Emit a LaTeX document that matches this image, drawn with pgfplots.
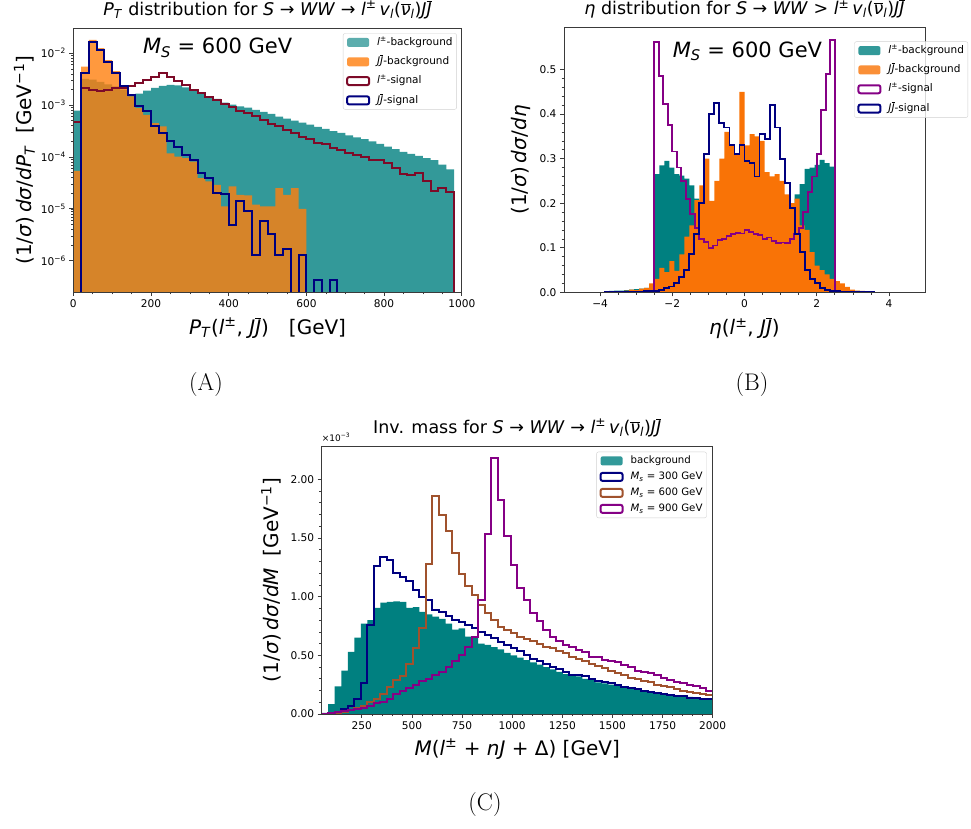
\documentclass[border=0pt]{standalone}
\usepackage{fontspec}
\usepackage{pgfplots}
\usepackage{pgfplotstable}
\pgfplotsset{compat=1.18}

\newfontfamily\dv{DejaVu Sans}
\newfontfamily\lmr{Latin Modern Roman}
\newcommand{\fs}[1]{\fontsize{#1}{#1}\selectfont}
\newcommand{\mi}[1]{\textit{#1}}
\newcommand{\bJ}{$\overline{\mbox{\mi{J}}}$}
\newcommand{\bnu}{$\overline{\mbox{\mi{ν}}}$}
\newcommand{\lpm}{\mi{l}\textsuperscript{±}}
\newcommand{\fin}{\lpm\,\mi{v}\textsubscript{\mi{l}}(\bnu\textsubscript{\mi{l}})\mi{J}\bJ}

\definecolor{tealc}{HTML}{008080}
\definecolor{orA}{HTML}{FF7F0E}
\definecolor{orB}{HTML}{F97306}
\definecolor{maroonS}{HTML}{7D0A28}
\definecolor{navyS}{HTML}{00007F}
\definecolor{purpS}{HTML}{850085}
\definecolor{siennaS}{HTML}{A0522D}
\definecolor{spine}{HTML}{3A3A3A}

% (A) pT histograms, 20 GeV bins; columns: lower edge, l-background, JJ-background, l-signal, JJ-signal
\pgfplotstableread{
x    tl       or       ls       js
0    1e-9     1e-9     1e-9     1e-9
0    7.8e-4   5.4e-5   4.8e-4   1e-9
20   3.2e-3   5.5e-3   2.1e-3   4.1e-3
40   3.1e-3   1.82e-2  1.95e-3  1.62e-2
60   2.8e-3   1.26e-2  1.9e-3   1.15e-2
80   2.5e-3   7.4e-3   2.0e-3   6.9e-3
100  2.3e-3   4.5e-3   2.1e-3   4.1e-3
120  2.0e-3   2.4e-3   2.1e-3   2.34e-3
140  1.5e-3   1.48e-3  2.34e-3  1.58e-3
160  1.66e-3  8.7e-4   2.63e-3  9.5e-4
180  1.9e-3   6.5e-4   3.1e-3   7.8e-4
200  2.14e-3  4.5e-4   3.47e-3  4.0e-4
220  2.34e-3  3.9e-4   4.07e-3  2.9e-4
240  2.45e-3  1.17e-4  3.55e-3  2.0e-4
260  2.4e-3   1.02e-4  2.95e-3  1.58e-4
280  2.19e-3  9.5e-5   2.45e-3  1.1e-4
300  1.9e-3   8.1e-5   1.95e-3  8.7e-5
320  1.7e-3   3.9e-5   1.7e-3   4.8e-5
340  1.48e-3  3.4e-5   1.45e-3  3.9e-5
360  1.32e-3  2.9e-5   1.26e-3  2.0e-5
380  1.12e-3  1.12e-5  1.05e-3  1.95e-5
400  1.02e-3  2.7e-5   9.3e-4   4.8e-6
420  9.5e-4   1.86e-5  7.8e-4   1.41e-5
440  8.9e-4   1.82e-5  6.9e-4   8.9e-6
460  8.1e-4   1.2e-5   6.2e-4   1.26e-6
480  7.4e-4   1.12e-5  5.1e-4   5.9e-6
500  6.8e-4   1.12e-5  4.4e-4   3.2e-6
520  6.0e-4   2.5e-5   3.9e-4   1.26e-6
540  5.5e-4   1.86e-5  3.3e-4   1.66e-6
560  5.0e-4   2.5e-5   2.9e-4   1e-9
580  4.6e-4   1.0e-5   2.45e-4  1.26e-6
600  4.2e-4   1e-9     2.2e-4   1e-9
620  3.8e-4   1e-9     1.9e-4   4.3e-7
640  3.5e-4   1e-9     1.74e-4  1e-9
660  3.16e-4  1e-9     1.5e-4   4.3e-7
680  2.9e-4   1e-9     1.35e-4  1e-9
700  2.6e-4   1e-9     1.2e-4   1e-9
720  2.4e-4   1e-9     1.1e-4   1e-9
740  2.2e-4   1e-9     1.0e-4   1e-9
760  2.0e-4   1e-9     8.9e-5   1e-9
780  1.78e-4  1e-9     8.9e-5   1e-9
800  1.58e-4  1e-9     7.6e-5   1e-9
820  1.41e-4  1e-9     6.0e-5   1e-9
840  1.26e-4  1e-9     4.7e-5   1e-9
860  1.15e-4  1e-9     4.5e-5   1e-9
880  1.05e-4  1e-9     5.0e-5   1e-9
900  9.5e-5   1e-9     3.5e-5   1e-9
920  8.7e-5   1e-9     2.2e-5   1e-9
940  7.1e-5   1e-9     2.5e-5   1e-9
960  5.75e-5  1e-9     2.1e-5   1e-9
980  5.75e-5  1e-9     2.1e-5   1e-9
980  1e-9     1e-9     1e-9     1e-9
}\tabA

% (B) eta histograms, bins of 5/36
\pgfplotstableread{
x        tl     or     js
-3.8889  0      0      0
-3.8889  0.002  0.000  0
-3.7500  0.003  0.001  0
-3.6111  0.004  0.002  0
-3.4722  0.004  0.002  0
-3.3333  0.005  0.004  0
-3.1944  0.006  0.006  0.001
-3.0556  0.007  0.005  0.001
-2.9167  0.008  0.008  0.001
-2.7778  0.010  0.010  0.002
-2.6389  0.012  0.020  0.002
-2.5000  0.265  0.030  0.003
-2.3611  0.285  0.055  0.005
-2.2222  0.295  0.045  0.010
-2.0833  0.280  0.070  0.013
-1.9444  0.265  0.048  0.020
-1.8056  0.262  0.085  0.035
-1.6667  0.255  0.125  0.050
-1.5278  0.240  0.150  0.085
-1.3889  0.210  0.207  0.130
-1.2500  0.190  0.240  0.200
-1.1111  0.170  0.300  0.310
-0.9722  0.150  0.205  0.400
-0.8333  0.140  0.250  0.425
-0.6944  0.130  0.300  0.380
-0.5556  0.120  0.360  0.370
-0.4167  0.120  0.330  0.330
-0.2778  0.110  0.310  0.310
-0.1389  0.110  0.450  0.330
0.0000   0.110  0.330  0.295
0.1389   0.110  0.355  0.290
0.2778   0.120  0.350  0.260
0.4167   0.120  0.340  0.355
0.5556   0.130  0.270  0.345
0.6944   0.140  0.260  0.420
0.8333   0.150  0.265  0.370
0.9722   0.160  0.250  0.300
1.1111   0.180  0.220  0.245
1.2500   0.200  0.200  0.190
1.3889   0.220  0.210  0.130
1.5278   0.243  0.150  0.090
1.6667   0.277  0.140  0.050
1.8056   0.280  0.090  0.030
1.9444   0.286  0.060  0.020
2.0833   0.297  0.050  0.010
2.2222   0.290  0.040  0.006
2.3611   0.282  0.030  0.003
2.5000   0.010  0.025  0.002
2.6389   0.007  0.020  0.001
2.7778   0.005  0.012  0.001
2.9167   0.004  0.006  0
3.0556   0.003  0.004  0
3.1944   0.002  0.003  0
3.3333   0.001  0.002  0
3.4722   0.000  0.001  0
3.6111   0.000  0.001  0
3.6111   0      0      0
}\tabB

% (B) l-signal, bins of 0.125 inside |eta| < 2.5
\pgfplotstableread{
x       ls
-2.5    0
-2.5    0.562
-2.375  0.485
-2.25   0.423
-2.125  0.376
-2.0    0.316
-1.875  0.280
-1.75   0.250
-1.625  0.210
-1.5    0.175
-1.375  0.145
-1.25   0.120
-1.125  0.113
-1.0    0.100
-0.875  0.105
-0.75   0.117
-0.625  0.120
-0.5    0.127
-0.375  0.130
-0.25   0.133
-0.125  0.132
0.0     0.140
0.125   0.135
0.25    0.130
0.375   0.128
0.5     0.120
0.625   0.123
0.75    0.115
0.875   0.110
1.0     0.112
1.125   0.110
1.25    0.120
1.375   0.130
1.5     0.145
1.625   0.180
1.75    0.225
1.875   0.260
2.0     0.310
2.125   0.410
2.25    0.490
2.375   0.567
2.5     0.567
2.5     0
}\tabBs

% (C) invariant mass, 32.5 GeV bins, in units of 1e-3 / GeV
\pgfplotstableread{
x       bg     sa     sb     sc
50      0      0      0      0
50      0.010  0.000  0.000  0.003
82.5    0.085  0.005  0.005  0.008
115     0.235  0.020  0.010  0.015
147.5   0.370  0.040  0.020  0.025
180     0.530  0.065  0.035  0.035
212.5   0.650  0.130  0.050  0.045
245     0.770  0.260  0.070  0.055
277.5   0.800  0.760  0.105  0.070
310     0.905  1.260  0.130  0.090
342.5   0.950  1.335  0.170  0.105
375     0.955  1.310  0.230  0.130
407.5   0.960  1.200  0.290  0.170
440     0.955  1.165  0.320  0.200
472.5   0.905  1.130  0.430  0.220
505     0.910  1.060  0.565  0.250
537.5   0.870  0.995  0.730  0.280
570     0.850  0.975  1.280  0.300
602.5   0.830  0.890  1.860  0.330
635     0.810  0.865  1.700  0.360
667.5   0.770  0.835  1.560  0.400
700     0.720  0.805  1.370  0.450
732.5   0.730  0.780  1.190  0.500
765     0.660  0.755  1.090  0.570
797.5   0.650  0.730  1.010  0.660
830     0.600  0.700  0.930  0.970
862.5   0.590  0.675  0.860  1.530
895     0.570  0.645  0.800  2.180
927.5   0.550  0.610  0.740  1.820
960     0.520  0.585  0.720  1.520
992.5   0.500  0.560  0.690  1.270
1025    0.480  0.535  0.660  1.070
1057.5  0.460  0.500  0.640  0.970
1090    0.440  0.470  0.620  0.860
1122.5  0.420  0.450  0.600  0.790
1155    0.400  0.430  0.570  0.720
1187.5  0.380  0.400  0.560  0.660
1220    0.360  0.380  0.540  0.620
1252.5  0.340  0.360  0.520  0.590
1285    0.330  0.335  0.490  0.570
1317.5  0.320  0.330  0.470  0.545
1350    0.300  0.320  0.450  0.530
1382.5  0.290  0.300  0.430  0.490
1415    0.270  0.285  0.410  0.490
1447.5  0.260  0.270  0.390  0.460
1480    0.250  0.260  0.370  0.450
1512.5  0.240  0.245  0.350  0.440
1545    0.230  0.230  0.330  0.420
1577.5  0.220  0.220  0.310  0.400
1610    0.210  0.210  0.300  0.370
1642.5  0.200  0.200  0.280  0.360
1675    0.195  0.190  0.270  0.350
1707.5  0.180  0.180  0.250  0.330
1740    0.170  0.170  0.240  0.310
1772.5  0.165  0.165  0.230  0.290
1805    0.160  0.155  0.210  0.270
1837.5  0.150  0.150  0.200  0.260
1870    0.145  0.140  0.190  0.250
1902.5  0.140  0.135  0.180  0.240
1935    0.135  0.130  0.170  0.220
1967.5  0.130  0.125  0.160  0.200
2000    0.130  0.125  0.160  0.200
2000    0      0      0      0
}\tabC

\pgfplotsset{
  histax/.style={
    scale only axis, axis on top,
    axis line style={spine, line width=0.8pt},
    tick align=outside, tick pos=left,
    major tick length=4pt, minor tick length=2.3pt,
    every tick/.style={spine, line width=0.8pt},
    minor tick style={line width=0.6pt},
    tick label style={font=\dv\fs{10.6}},
    /pgf/number format/assume math mode=true,
    /pgf/number format/1000 sep={},
    title style={font=\dv\fs{17.5}, inner sep=0pt, anchor=base},
    xlabel style={font=\dv\fs{20}, inner sep=0pt, anchor=base},
    ylabel style={font=\dv\fs{20}, inner sep=0pt, anchor=south},
    legend cell align=left,
    legend style={draw=black!18, rounded corners=2pt, fill=white,
      fill opacity=0.8, text opacity=1, font=\dv\fs{10.5},
      inner xsep=3pt, inner ysep=3pt, row sep=7.3pt,
      /tikz/every odd column/.append style={column sep=6pt},
      nodes={inner sep=1pt, text height=7.7pt, text depth=2.3pt}},
  },
  filled/.style={const plot, draw=none, fill=#1,
    legend image code/.code={\fill[#1] (0pt,-4.5pt) rectangle (22pt,4.5pt);}},
  stepline/.style={const plot, draw=#1, line width=2pt, fill=none,
    legend image code/.code={\draw[#1, line width=2pt] (0pt,-4pt) rectangle (22pt,4pt);}},
}

\begin{document}
\begin{tikzpicture}
\useasboundingbox (0,0) rectangle (971pt,829pt);

% ---------------- (A) transverse momentum ----------------
\begin{axis}[histax,
  at={(73.3pt,537pt)}, anchor=south west, width=388.5pt, height=264pt,
  xmin=0, xmax=1000, ymode=log, ymin=2.49e-7, ymax=3.07e-2,
  xtick={0,200,...,1000}, minor x tick num=3,
  ytick={1e-6,1e-5,1e-4,1e-3,1e-2},
  yticklabels={10\textsuperscript{−6},10\textsuperscript{−5},10\textsuperscript{−4},10\textsuperscript{−3},10\textsuperscript{−2}},
  title={\mi{P}\textsubscript{\mi{T}} distribution for \mi{S} → \mi{WW} → \fin},
  title style={at={(axis description cs:0.5,1.026)}},
  xlabel={\mi{P}\textsubscript{\mi{T}}(\lpm, \mi{J}\bJ)\hspace{1em}[GeV]},
  xlabel style={at={(axis description cs:0.5,-0.160)}},
  ylabel={(1/\mi{σ})\,\mi{dσ}/\mi{dP}\textsubscript{\mi{T}}\hspace{0.6em}[GeV\textsuperscript{−1}]},
  ylabel style={at={(axis description cs:-0.0986,0.5)}},
  legend style={at={(axis description cs:1,1)}, anchor=north east, xshift=-5pt, yshift=-5.3pt},
]
\addplot[filled=tealc!80!white] table[x=x,y=tl]{\tabA} -- cycle;
\addlegendentry{\lpm-background}
\addplot[const plot, draw=none, fill=orA, fill opacity=0.8,
  legend image code/.code={\fill[orA, fill opacity=0.8] (0pt,-4.5pt) rectangle (22pt,4.5pt);}]
  table[x=x,y=or]{\tabA} -- cycle;
\addlegendentry{\mi{J}\bJ-background}
\addplot[stepline=maroonS] table[x=x,y=ls]{\tabA};
\addlegendentry{\lpm-signal}
\addplot[stepline=navyS] table[x=x,y=js]{\tabA};
\addlegendentry{\mi{J}\bJ-signal}
\node[anchor=base west, font=\dv\fs{21}, inner sep=0pt] at (rel axis cs:0.179,0.904)
  {\mi{M}\textsubscript{\mi{S}} = 600 GeV};
\end{axis}

% ---------------- (B) pseudorapidity ----------------
\begin{axis}[histax,
  at={(564pt,536.7pt)}, anchor=south west, width=361pt, height=264.6pt,
  xmin=-5, xmax=5, ymin=0, ymax=0.594,
  xtick={-4,-2,0,2,4}, xticklabels={−4,−2,0,2,4}, minor x tick num=3,
  ytick={0,0.1,...,0.5}, minor y tick num=4,
  yticklabel style={/pgf/number format/.cd, fixed, fixed zerofill, precision=1},
  title={\mi{η} distribution for \mi{S} → \mi{WW} > \fin},
  title style={at={(axis description cs:0.5,1.028)}},
  xlabel={\mi{η}(\lpm, \mi{J}\bJ)},
  xlabel style={at={(axis description cs:0.5,-0.160)}},
  ylabel={(1/\mi{σ})\,\mi{dσ}/\mi{dη}},
  ylabel style={at={(axis description cs:-0.0915,0.5)}},
  legend style={at={(axis description cs:0.804,0.948)}, anchor=north west, font=\dv\fs{10.5}},
]
\addplot[filled=tealc] table[x=x,y=tl]{\tabB} -- cycle;
\addlegendentry{\lpm-background}
\addplot[filled=orB] table[x=x,y=or]{\tabB} -- cycle;
\addlegendentry{\mi{J}\bJ-background}
\addplot[stepline=purpS, line width=1.8pt] table[x=x,y=ls]{\tabBs};
\addlegendentry{\lpm-signal}
\addplot[stepline=navyS, line width=1.9pt] table[x=x,y=js]{\tabB};
\addlegendentry{\mi{J}\bJ-signal}
\node[anchor=base west, font=\dv\fs{21}, inner sep=0pt] at (rel axis cs:0.301,0.889)
  {\mi{M}\textsubscript{\mi{S}} = 600 GeV};
\end{axis}

% ---------------- (C) invariant mass ----------------
\begin{axis}[histax,
  at={(321.7pt,115pt)}, anchor=south west, width=391pt, height=268pt,
  xmin=50, xmax=2000, ymin=0, ymax=2.284,
  xtick={250,500,...,2000}, minor x tick num=4,
  ytick={0,0.5,...,2}, minor y tick num=4,
  yticklabel style={/pgf/number format/.cd, fixed, fixed zerofill, precision=2},
  title={Inv. mass for \mi{S} → \mi{WW} → \fin},
  title style={at={(axis description cs:0.5,1.026)}},
  xlabel={\mi{M}(\lpm{} + \mi{nJ} + Δ) [GeV]},
  xlabel style={at={(axis description cs:0.5,-0.153)}},
  ylabel={(1/\mi{σ})\,\mi{dσ}/\mi{dM}\hspace{0.6em}[GeV\textsuperscript{−1}]},
  ylabel style={at={(axis description cs:-0.1023,0.5)}},
  legend style={at={(axis description cs:1,1)}, anchor=north east, xshift=-6pt, yshift=-5.7pt,
    font=\dv\fs{10.2}, row sep=4pt},
  after end axis/.code={
    \node[anchor=base west, font=\dv\fs{9}, inner sep=0pt] at (axis description cs:0,1.0175)
      {×10\textsuperscript{−3}};
  },
]
\addplot[filled=tealc] table[x=x,y=bg]{\tabC} -- cycle;
\addlegendentry{background}
\addplot[stepline=navyS] table[x=x,y=sa]{\tabC};
\addlegendentry{\mi{M}\textsubscript{\mi{s}} = 300 GeV}
\addplot[stepline=siennaS] table[x=x,y=sb]{\tabC};
\addlegendentry{\mi{M}\textsubscript{\mi{s}} = 600 GeV}
\addplot[stepline=purpS] table[x=x,y=sc]{\tabC};
\addlegendentry{\mi{M}\textsubscript{\mi{s}} = 900 GeV}
\end{axis}

% panel tags
\node[font=\lmr\fs{24}] at (206pt,444pt) {(A)};
\node[font=\lmr\fs{24}] at (752pt,444pt) {(B)};
\node[font=\lmr\fs{24}] at (485pt,24pt) {(C)};
\end{tikzpicture}
\end{document}
